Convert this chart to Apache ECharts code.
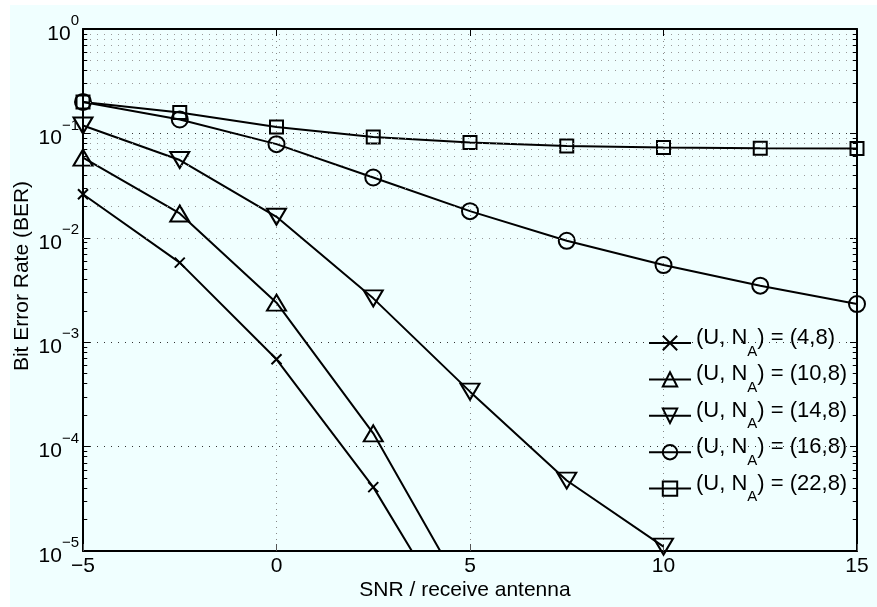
<!DOCTYPE html>
<html>
<head>
<meta charset="utf-8">
<title>BER</title>
<script src="https://cdn.jsdelivr.net/npm/echarts@6/dist/echarts.min.js"></script>
<style>
html,body{margin:0;padding:0;background:#fff;}
#main{position:absolute;left:10px;top:5px;width:867px;height:602px;background:#f0ffff;}
</style>
</head>
<body>
<div id="main"></div>
<script>
// 横轴 SNR
var snr = [-5, -2.5, 0, 2.5, 5, 7.5, 10, 12.5, 15];
// 各曲线 BER (读图估计, 低于 1e-5 的点被裁掉)
var ber4 = [0.0261, 0.00578, 0.000686, 0.0000409, 0.0000012];
var ber10 = [0.0587, 0.0171, 0.00239, 0.000134, 0.00000315];
var ber14 = [0.119, 0.0556, 0.0159, 0.00263, 0.000336, 0.0000473, 0.000011];
var ber16 = [0.2, 0.136, 0.0789, 0.0378, 0.018, 0.00936, 0.00548, 0.00348, 0.00232];
var ber22 = [0.2, 0.1585, 0.1154, 0.0926, 0.0818, 0.0759, 0.0733, 0.0722, 0.0717];
var names = ['(4,8)', '(10,8)', '(14,8)', '(16,8)', '(22,8)'];
var xMin = -5, xMax = 15, xStep = 5;
var yMin = 0.00001, yMax = 1;

var font = '"Liberation Sans", Arial, Helvetica, sans-serif';

function pairs(ys) {
	var out = [];
	for (var i = 0; i < ys.length; i++) {
		out.push([snr[i], ys[i]]);
	}
	return out;
}

function makeSeries(name, ys, symbol, size, rotate) {
	return {
		name: name,
		type: 'line',
		data: pairs(ys),
		symbol: symbol,
		symbolSize: size,
		symbolRotate: rotate || 0,
		showAllSymbol: true,
		clip: true,
		z: 3,
		lineStyle: {color: '#000', width: 2},
		itemStyle: {color: 'rgba(0,0,0,0)', borderColor: '#000', borderWidth: 2},
		emphasis: {disabled: true}
	};
}

// 次刻度 / 次网格线
var minorGrid = [];
var minorTicks = [];
for (var n = -5; n < 0; n++) {
	for (var k = 2; k <= 9; k++) {
		var v = k * Math.pow(10, n);
		minorGrid.push({yAxis: v});
		minorTicks.push([{coord: [xMin, v]}, {coord: [xMin + 0.11, v]}]);
		minorTicks.push([{coord: [xMax - 0.11, v]}, {coord: [xMax, v]}]);
	}
}

var series = [
	makeSeries(names[0], ber4, 'path://M0,0L10,10M0,10L10,0', 10),
	makeSeries(names[1], ber10, 'triangle', [19, 16]),
	makeSeries(names[2], ber14, 'triangle', [19, 16], 180),
	makeSeries(names[3], ber16, 'circle', 16),
	makeSeries(names[4], ber22, 'rect', 13),
	{
		name: 'minor',
		type: 'line',
		data: [[xMin, yMax]],
		symbol: 'none',
		lineStyle: {opacity: 0},
		z: 1,
		silent: true,
		markLine: {
			silent: true,
			symbol: 'none',
			label: {show: false},
			animation: false,
			lineStyle: {type: [1, 6], color: '#9a9a9a', width: 1},
			emphasis: {disabled: true},
			data: minorGrid
		}
	},
	{
		name: 'minorTick',
		type: 'line',
		data: [[xMin, yMax]],
		symbol: 'none',
		lineStyle: {opacity: 0},
		z: 4,
		silent: true,
		markLine: {
			silent: true,
			symbol: 'none',
			label: {show: false},
			animation: false,
			lineStyle: {type: 'solid', color: '#000', width: 1},
			emphasis: {disabled: true},
			data: minorTicks
		}
	}
];

function yLabel(v) {
	var e = Math.round(Math.log(v) / Math.LN10);
	return '{b|10}{e|' + String(e).replace('-', '\u2212') + '}';
}

var chart = echarts.init(document.getElementById('main'));
chart.setOption({
	animation: false,
	backgroundColor: 'transparent',
	textStyle: {fontFamily: font, color: '#000'},
	grid: {left: 73, right: 20, top: 24, bottom: 56, containLabel: false, outerBoundsMode: 'none'},
	legend: {
		data: names,
		orient: 'vertical',
		left: 638,
		top: 322,
		padding: 0,
		itemGap: 4.4,
		itemWidth: 42,
		itemHeight: 18,
		selectedMode: false,
		formatter: function (n) {
			return '{m|(U, N}{s|A}{m|) = ' + n + '}';
		},
		textStyle: {
			fontFamily: font,
			color: '#000',
			rich: {
				m: {fontSize: 22, fontFamily: font, color: '#000', verticalAlign: 'top'},
				s: {fontSize: 15, fontFamily: font, color: '#000', lineHeight: 32, verticalAlign: 'bottom'}
			}
		}
	},
	xAxis: [{
		type: 'value',
		min: xMin,
		max: xMax,
		interval: xStep,
		name: 'SNR / receive antenna',
		nameLocation: 'middle',
		nameGap: 29,
		nameMoveOverlap: false,
		nameTextStyle: {fontSize: 21, fontFamily: font, color: '#000', padding: [0, 10, 0, 0]},
		axisLine: {onZero: false, lineStyle: {color: '#000', width: 2}},
		axisTick: {inside: true, length: 7, lineStyle: {color: '#555', width: 1}},
		axisLabel: {
			fontSize: 21, color: '#000', margin: 5, fontFamily: font,
			formatter: function (v) { return String(v).replace('-', '\u2212'); }
		},
		splitLine: {show: true, lineStyle: {type: [1, 5], color: '#888', width: 1}}
	}, {
		type: 'value',
		position: 'top',
		min: xMin,
		max: xMax,
		interval: xStep,
		axisLine: {show: true, onZero: false, lineStyle: {color: '#000', width: 2}},
		axisTick: {show: true, inside: true, length: 7, lineStyle: {color: '#000', width: 1}},
		axisLabel: {show: false},
		splitLine: {show: false}
	}],
	yAxis: [{
		type: 'log',
		logBase: 10,
		min: yMin,
		max: yMax,
		name: 'Bit Error Rate (BER)',
		nameLocation: 'middle',
		nameGap: 50,
		nameMoveOverlap: false,
		nameTextStyle: {fontSize: 21, fontFamily: font, color: '#000', padding: [0, 0, 0, 28]},
		axisLine: {show: true, onZero: false, lineStyle: {color: '#000', width: 2}},
		axisTick: {show: true, inside: true, length: 7, lineStyle: {color: '#000', width: 1}},
		axisLabel: {
			margin: 4,
			formatter: yLabel,
			rich: {
				b: {fontSize: 21, fontFamily: font, color: '#000', verticalAlign: 'bottom'},
				e: {fontSize: 15, fontFamily: font, color: '#000', lineHeight: 31, verticalAlign: 'top'}
			}
		},
		splitLine: {show: true, lineStyle: {type: [1, 6], color: '#333', width: 1}}
	}, {
		type: 'log',
		logBase: 10,
		position: 'right',
		min: yMin,
		max: yMax,
		axisLine: {show: true, onZero: false, lineStyle: {color: '#000', width: 2}},
		axisTick: {show: true, inside: true, length: 7, lineStyle: {color: '#000', width: 1}},
		axisLabel: {show: false},
		splitLine: {show: false}
	}],
	series: series
});
</script>
</body>
</html>
